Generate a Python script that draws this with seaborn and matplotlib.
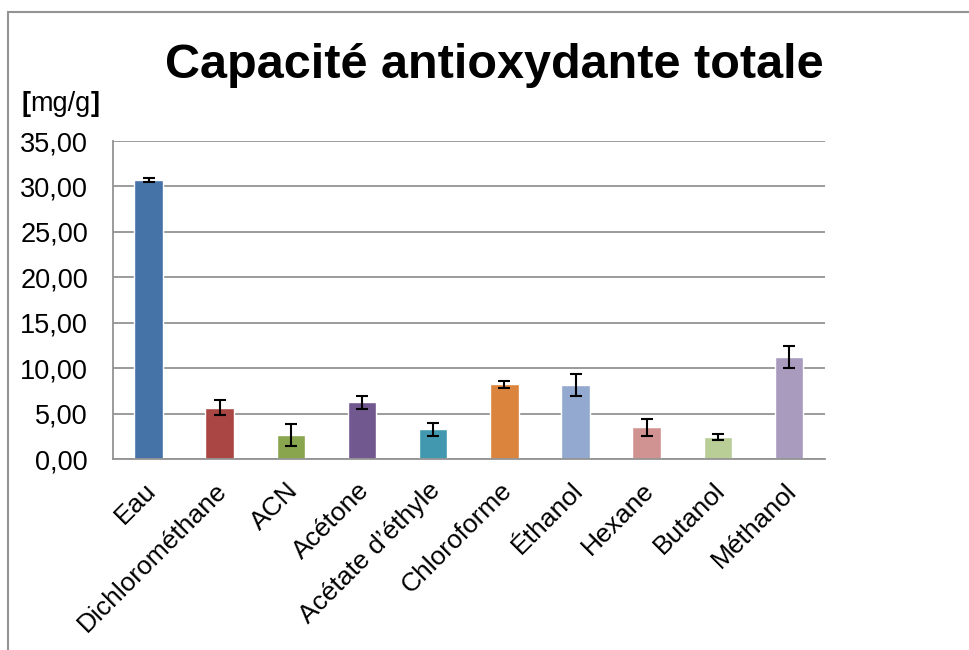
import numpy as np
import pandas as pd
import matplotlib
matplotlib.use("Agg")
import matplotlib.pyplot as plt
import seaborn as sns

# données
solvants = ["Eau", "Dichlorométhane", "ACN", "Acétone", "Acétate d’éthyle",
            "Chloroforme", "Éthanol", "Hexane", "Butanol", "Méthanol"]
capacite = [30.7, 5.65, 2.65, 6.25, 3.3, 8.25, 8.15, 3.5, 2.4, 11.2]
erreur = [0.2, 0.85, 1.2, 0.7, 0.72, 0.38, 1.2, 0.95, 0.35, 1.22]
couleurs = ["#4572A7", "#AA4643", "#89A54E", "#71588F", "#4198AF",
            "#DB843D", "#93A9CF", "#D19392", "#B9CD96", "#A99BBD"]
y_ticks = [0, 5, 10, 15, 20, 25, 30, 35]

df = pd.DataFrame({"solvant": solvants, "capacite": capacite})

sns.set_style("white")
plt.rcParams['font.family'] = ['Liberation Sans', 'DejaVu Sans']
plt.rcParams['text.color'] = 'black'
plt.rcParams['xtick.color'] = 'black'
plt.rcParams['ytick.color'] = 'black'

fig = plt.figure(figsize=(9.69, 6.5), dpi=100)
ax = fig.add_axes([0.1166, 0.2938, 0.7344, 0.4892])

sns.barplot(data=df, x="solvant", y="capacite", hue="solvant",
            palette=couleurs, width=0.4, legend=False, ax=ax,
            saturation=1, errorbar=None)

# barres d'erreur
ax.errorbar(np.arange(len(solvants)), capacite, yerr=erreur, fmt="none",
            ecolor="black", elinewidth=1.5, capsize=4.5, capthick=1.5, zorder=5)

ax.set_ylim(0, 35)
ax.set_xlim(-0.5, len(solvants) - 0.5)
ax.set_yticks(y_ticks)
ax.set_yticklabels(["{:.2f}".format(v).replace(".", ",") for v in y_ticks], fontsize=19.5)
ax.set_xticks(np.arange(len(solvants)) - 0.07)
ax.set_xticklabels(solvants, rotation=45, ha="right", va="top",
                   rotation_mode="anchor", fontsize=19)
ax.set_xlabel("")
ax.set_ylabel("")

ax.yaxis.grid(True, color="#939393", linewidth=1.3)
ax.set_axisbelow(True)
for s in ["top", "right"]:
    ax.spines[s].set_visible(False)
for s in ["left", "bottom"]:
    ax.spines[s].set_color("#939393")
    ax.spines[s].set_linewidth(1.3)
ax.tick_params(axis="y", length=0, pad=18)
ax.tick_params(axis="x", length=0, pad=14)

fig.text(0.51, 0.9, "Capacité antioxydante totale", ha="center", va="center",
         fontsize=35, fontweight="bold")

# unité : crochets en gras
t1 = fig.text(0.022, 0.82, "[", ha="left", va="bottom", fontsize=19.5, fontweight="bold")
t2 = ax.annotate("mg/g", xy=(1, 0), xycoords=t1, ha="left", va="bottom", fontsize=19.5,
                 annotation_clip=False)
ax.annotate("]", xy=(1, 0), xycoords=t2, ha="left", va="bottom", fontsize=19.5,
            fontweight="bold", annotation_clip=False)

# cadre du graphique
fig.patches.append(plt.Rectangle((0.008, -0.05), 1.1, 1.0315, transform=fig.transFigure,
                                 fill=False, edgecolor="#939393", linewidth=1.5))

fig.savefig("out.png", dpi=100)
